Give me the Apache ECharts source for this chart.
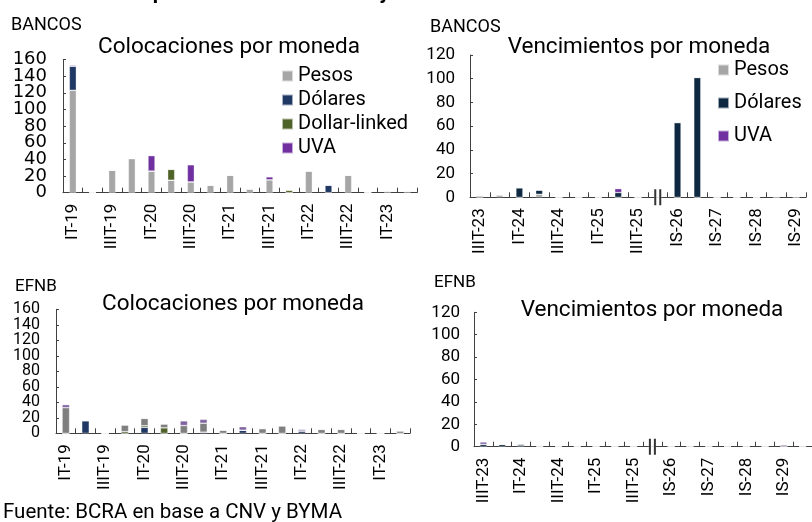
<!DOCTYPE html>
<html>
<head>
<meta charset="utf-8">
<script src="https://cdn.jsdelivr.net/npm/echarts@6/dist/echarts.min.js"></script>
<style>
html,body{margin:0;padding:0;background:#fff;}
#chart{width:812px;height:522px;}
</style>
</head>
<body>
<div id="chart"></div>
<script>
// ---- categories ----
const catsCol = ['IT-19','IIT-19','IIIT-19','IVT-19','IT-20','IIT-20','IIIT-20','IVT-20','IT-21','IIT-21','IIIT-21','IVT-21','IT-22','IIT-22','IIIT-22','IVT-22','IT-23','IIT-23'];
const catsVen = ['IIIT-23','IVT-23','IT-24','IIT-24','IIIT-24','IVT-24','IT-25','IIT-25','IIIT-25','','IS-26','IIS-26','IS-27','IIS-27','IS-28','IIS-28','IS-29','IIS-29'];
const catsVenTop = catsVen.slice(0, 17);

// ---- BANCOS: colocaciones por moneda ----
const bancosColPesos   = [123,0,27,41,26,15,13,9,21,4.5,15.5,0,26,0,21,0.6,2,1.8];
const bancosColDolares = [29,0,0,0,0,0,0,0,0,0,0,0,0,9,0,0,0,0];
const bancosColDL      = [0,0,0,0,0,13,0,0,0,0,0,3,0,0,0,0,0,0];
const bancosColUVA     = [1.2,0,0,0,18.5,0,20.5,0,0,0,3.5,0,0,0,0,0,0,0];

// ---- BANCOS: vencimientos por moneda ----
const bancosVenPesos   = [0,2,0,2.5,0,0,0,0,0,0,0,0,0,0,0,0.4,0.4];
const bancosVenDolares = [1,0,8,3.5,0,0,0,4,0,0,63,101,0,0,0,0,0];
const bancosVenUVA     = [0,0,0,0,0,0,0,3.3,0,0,0,0,0,0,0,0,0];

// ---- EFNB: colocaciones por moneda ----
const efnbColDolares = [0,16.3,0,0,7.7,0,0,1.5,0,4,0,0,3,0,0,0,0,0];
const efnbColDL      = [0,0,0,2.2,2,7,0,0,0,0,0,0,0,0,0,0,0,0];
const efnbColPesos   = [33,0,0,8.5,9.5,5,10,11.5,3.9,0,6,9.5,0,5,5,0,0,3];
const efnbColUVA     = [4,0,0,0,0,0,6,5,0,4.5,0,0,2,0,0,0,0,0];

// ---- EFNB: vencimientos por moneda ----
const efnbVenDolares = [2,2,1.5,0,0,0,0,0,0,0,0,0,0,0,0,0,0,0];
const efnbVenPesos   = [0,0,1.2,0.5,0.4,0.4,0,0,0,0,0,0,0,0,0,0,0,0];
const efnbVenUVA     = [2.2,0,0,0,0,0,0,0,0,0,0,0,0,0,0,0,1.5,0];

const yTicksCol = [0,160,20];
const yTicksVen = [0,120,20];

const breakIdx = catsVen.indexOf('');

const C = {
  pesos:'#A6A6A6', pesosDark:'#7F7F7F',
  dol:'#203864', dolDark:'#0E2841',
  dl:'#4F6228',
  uva:'#7030A0', uvaLight:'#8064A2'
};
const AX = '#404040';
const FONT = 'Roboto';

function xAx(gi, data){
  return {
    gridIndex: gi, type:'category', data: data,
    axisLine:{show:true, lineStyle:{color:AX, width:1}},
    axisTick:{show:true, inside:true, length:5, interval:0, lineStyle:{color:AX}},
    axisLabel:{interval:1, rotate:90, fontSize:17, margin:11, color:'#000', fontFamily:FONT, hideOverlap:false},
    splitLine:{show:false}
  };
}
function yAx(gi, t, fs, fam, margin){
  return {
    gridIndex: gi, type:'value', position:'left', offset:0,
    min:t[0], max:t[1], interval:t[2],
    axisLine:{show:true, onZero:false, lineStyle:{color:AX, width:1}},
    axisTick:{show:true, inside:true, length:3, lineStyle:{color:AX}},
    axisLabel:{fontSize:fs, color:'#000', fontFamily:fam, margin:margin,
               showMinLabel:true, showMaxLabel:true, hideOverlap:false},
    splitLine:{show:false}
  };
}
// dense axes: labels split over two overlaid axes so none gets dropped
function yAxDense(gi, t, fs, fam, margin, even){
  const a = yAx(gi, t, fs, fam, margin);
  a.axisLabel.formatter = function(v){
    const k = Math.round((v - t[0]) / t[2]) % 2 === 0;
    return (k === even) ? String(v) : '';
  };
  if (!even) {
    a.axisLine = {show:false};
    a.axisLabel.showMinLabel = false;
    a.axisLabel.showMaxLabel = false;
  }
  return a;
}
function bar(name, data, idx, stack, color, bw){
  return {
    type:'bar', name:name, data:data, xAxisIndex:idx, yAxisIndex:idx, stack:stack,
    barWidth:bw, itemStyle:{color:color, borderColor:'rgba(255,255,255,0.6)', borderWidth:0.6},
    emphasis:{disabled:true}
  };
}
function brk(idx){
  return {
    type:'scatter', name:'corte', xAxisIndex:idx, yAxisIndex:idx,
    data:[[breakIdx, 0]],
    symbol:'path://M0,0H2V16H0Z M5,0H7V16H5Z', symbolSize:[7,16],
    itemStyle:{color:'#000'}, z:5, silent:true
  };
}

const chart = echarts.init(document.getElementById('chart'), null, {renderer:'canvas'});
const option = {
  animation:false,
  backgroundColor:'#fff',
  grid:[
    {left:63, top:59.5, width:354, height:133.2},
    {left:470, top:55, width:336, height:142.3},
    {left:56, top:309.3, width:354, height:124},
    {left:474, top:312.3, width:341, height:134.4}
  ],
  xAxis:[ xAx(0, catsCol), xAx(1, catsVenTop), xAx(2, catsCol), xAx(3, catsVen) ],
  yAxis:[
    yAxDense(0, yTicksCol, 18, 'DejaVu Sans', 16, true),
    yAx(1, yTicksVen, 17, FONT, 15),
    yAxDense(2, yTicksCol, 16, FONT, 16, true),
    yAx(3, yTicksVen, 17, FONT, 14),
    yAxDense(0, yTicksCol, 18, 'DejaVu Sans', 16, false),
    yAxDense(2, yTicksCol, 16, FONT, 16, false)
  ],
  legend:[
    {left:276, top:61, orient:'vertical', icon:'rect', itemWidth:11, itemHeight:11, itemGap:4,
     textStyle:{fontSize:20, color:'#000', fontFamily:FONT}, selectedMode:false,
     data:[{name:'Pesos', itemStyle:{color:C.pesos}}, {name:'Dólares', itemStyle:{color:C.dol}},
           {name:'Dollar-linked', itemStyle:{color:C.dl}}, {name:'UVA', itemStyle:{color:C.uva}}]},
    {left:712, top:55, orient:'vertical', icon:'rect', itemWidth:11, itemHeight:11, itemGap:13,
     textStyle:{fontSize:20, color:'#000', fontFamily:FONT}, selectedMode:false,
     data:[{name:'Pesos', itemStyle:{color:C.pesos}}, {name:'Dólares', itemStyle:{color:C.dolDark}},
           {name:'UVA', itemStyle:{color:C.uva}}]}
  ],
  series:[
    bar('Pesos', bancosColPesos, 0, 'tl', C.pesos, 7),
    bar('Dólares', bancosColDolares, 0, 'tl', C.dol, 7),
    bar('Dollar-linked', bancosColDL, 0, 'tl', C.dl, 7),
    bar('UVA', bancosColUVA, 0, 'tl', C.uva, 7),

    bar('Pesos', bancosVenPesos, 1, 'tr', C.pesos, 7),
    bar('Dólares', bancosVenDolares, 1, 'tr', C.dolDark, 7),
    bar('UVA', bancosVenUVA, 1, 'tr', C.uva, 7),
    brk(1),

    bar('Dólares', efnbColDolares, 2, 'bl', C.dol, 7.5),
    bar('Dollar-linked', efnbColDL, 2, 'bl', C.dl, 7.5),
    bar('Pesos', efnbColPesos, 2, 'bl', C.pesosDark, 7.5),
    bar('UVA', efnbColUVA, 2, 'bl', C.uvaLight, 7.5),

    bar('Dólares', efnbVenDolares, 3, 'br', C.dolDark, 7),
    bar('Pesos', efnbVenPesos, 3, 'br', C.pesos, 7),
    bar('UVA', efnbVenUVA, 3, 'br', C.uvaLight, 7),
    brk(3)
  ],
  graphic:[
    {type:'text', left:20, top:-17, style:{text:'Colocaciones por moneda de emisión y vencimientos', font:'bold 21px Roboto', fill:'#000'}},
    {type:'text', x:11, y:25, style:{text:'BANCOS', font:'18px Roboto', fill:'#000', verticalAlign:'middle'}},
    {type:'text', x:430, y:27, style:{text:'BANCOS', font:'18px Roboto', fill:'#000', verticalAlign:'middle'}},
    {type:'text', x:15, y:287, style:{text:'EFNB', font:'17px Roboto', fill:'#000', verticalAlign:'middle'}},
    {type:'text', x:434, y:283, style:{text:'EFNB', font:'17px Roboto', fill:'#000', verticalAlign:'middle'}},
    {type:'text', x:229, y:47, style:{text:'Colocaciones por moneda', font:'22.5px Roboto', fill:'#000', align:'center', verticalAlign:'middle'}},
    {type:'text', x:639, y:47, style:{text:'Vencimientos por moneda', font:'22.5px Roboto', fill:'#000', align:'center', verticalAlign:'middle'}},
    {type:'text', x:233, y:304, style:{text:'Colocaciones por moneda', font:'22.5px Roboto', fill:'#000', align:'center', verticalAlign:'middle'}},
    {type:'text', x:652, y:310, style:{text:'Vencimientos por moneda', font:'22.5px Roboto', fill:'#000', align:'center', verticalAlign:'middle'}},
    {type:'text', x:3, y:513, style:{text:'Fuente: BCRA en base a CNV y BYMA', font:'20.5px Roboto', fill:'#000', verticalAlign:'middle'}}
  ]
};
chart.setOption(option);
</script>
</body>
</html>
